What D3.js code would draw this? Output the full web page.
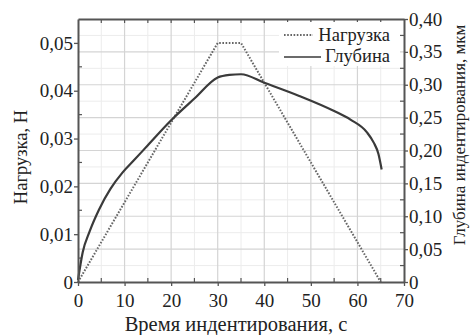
<!DOCTYPE html>
<html>
<head>
<meta charset="utf-8">
<script src="https://cdn.jsdelivr.net/npm/d3@7"></script>
<style>
  body { margin: 0; background: #fff; }
  svg text { font-family: "Liberation Serif", "Times New Roman", Times, "DejaVu Serif", serif; fill: #222; }
</style>
</head>
<body>
<div id="viz"></div>
<script>
// load curve (left axis, N)
const loadTime = [0, 30, 35, 65];
const loadValue = [0, 0.05, 0.05, 0];

// depth curve (right axis, um)
const depthTime = [0, 1, 2.5, 4.5, 7, 9.5, 12, 15, 20, 25, 30, 32.5, 35, 40, 47.5, 55, 58.5, 62, 63.5, 64.5, 65.2];
const depthValue = [0.003, 0.045, 0.077, 0.11, 0.142, 0.166, 0.185, 0.208, 0.246, 0.279, 0.311, 0.315, 0.316, 0.303, 0.283, 0.26, 0.247, 0.228, 0.212, 0.195, 0.171];

const xTicks = [0, 10, 20, 30, 40, 50, 60, 70];
const leftTicks = [0, 0.01, 0.02, 0.03, 0.04, 0.05];
const rightTicks = [0, 0.05, 0.10, 0.15, 0.20, 0.25, 0.30, 0.35, 0.40];

const serif = '"Liberation Serif", "Times New Roman", Times, "DejaVu Serif", serif';
const fmt = d => d === 0 ? '0' : d.toFixed(2).replace('.', ',');

function buildChart(containerId) {
    const width = 471;
    const height = 335;
    const margin = { top: 19, right: 67, bottom: 53, left: 78 };
    const innerWidth = width - margin.left - margin.right;
    const innerHeight = height - margin.top - margin.bottom;

    const svg = d3.select(containerId).append('svg')
        .attr('width', width)
        .attr('height', height);

    const g = svg.append('g')
        .attr('transform', 'translate(' + margin.left + ',' + margin.top + ')');

    const x = d3.scaleLinear().domain([0, 70]).range([0, innerWidth]);
    const yL = d3.scaleLinear().domain([0, 0.055]).range([innerHeight, 0]);
    const yR = d3.scaleLinear().domain([0, 0.40]).range([innerHeight, 0]);

    // grid
    const xMinor = d3.range(5, 70, 10);
    const rMinor = d3.range(0.025, 0.40, 0.05);
    g.selectAll('.vminor').data(xMinor).enter().append('line')
        .attr('x1', d => x(d)).attr('x2', d => x(d))
        .attr('y1', 0).attr('y2', innerHeight)
        .attr('stroke', '#ececec').attr('stroke-width', 1);
    g.selectAll('.hminor').data(rMinor).enter().append('line')
        .attr('x1', 0).attr('x2', innerWidth)
        .attr('y1', d => yR(d)).attr('y2', d => yR(d))
        .attr('stroke', '#ececec').attr('stroke-width', 1);
    g.selectAll('.vmajor').data(xTicks.slice(1, -1)).enter().append('line')
        .attr('x1', d => x(d)).attr('x2', d => x(d))
        .attr('y1', 0).attr('y2', innerHeight)
        .attr('stroke', '#d4d4d4').attr('stroke-width', 1.2);
    g.selectAll('.hmajor').data(rightTicks.slice(1, -1)).enter().append('line')
        .attr('x1', 0).attr('x2', innerWidth)
        .attr('y1', d => yR(d)).attr('y2', d => yR(d))
        .attr('stroke', '#d4d4d4').attr('stroke-width', 1.2);

    // minor inward ticks
    const tickCol = '#555';
    g.selectAll('.tmx').data(d3.range(5, 70, 5)).enter().append('line')
        .attr('x1', d => x(d)).attr('x2', d => x(d))
        .attr('y1', 0).attr('y2', 4)
        .attr('stroke', tickCol).attr('stroke-width', 1.2);
    g.selectAll('.bmx').data(xMinor).enter().append('line')
        .attr('x1', d => x(d)).attr('x2', d => x(d))
        .attr('y1', innerHeight).attr('y2', innerHeight - 4)
        .attr('stroke', tickCol).attr('stroke-width', 1.2);
    g.selectAll('.lmy').data(d3.range(0.005, 0.055, 0.01)).enter().append('line')
        .attr('x1', 0).attr('x2', 4)
        .attr('y1', d => yL(d)).attr('y2', d => yL(d))
        .attr('stroke', tickCol).attr('stroke-width', 1.2);
    g.selectAll('.rmy').data(rMinor).enter().append('line')
        .attr('x1', innerWidth).attr('x2', innerWidth - 4)
        .attr('y1', d => yR(d)).attr('y2', d => yR(d))
        .attr('stroke', tickCol).attr('stroke-width', 1.2);

    // curves
    const loadData = loadTime.map((t, i) => ({ t: t, v: loadValue[i] }));
    const depthData = depthTime.map((t, i) => ({ t: t, v: depthValue[i] }));

    g.append('path')
        .datum(loadData)
        .attr('fill', 'none')
        .attr('stroke', '#666')
        .attr('stroke-width', 2)
        .attr('stroke-dasharray', '1.6,1.6')
        .attr('d', d3.line().x(d => x(d.t)).y(d => yL(d.v)));

    g.append('path')
        .datum(depthData)
        .attr('fill', 'none')
        .attr('stroke', '#3a3a3a')
        .attr('stroke-width', 2.2)
        .attr('stroke-linejoin', 'round')
        .attr('d', d3.line().x(d => x(d.t)).y(d => yR(d.v)).curve(d3.curveMonotoneX));

    // axes
    const styleAxis = sel => {
        sel.attr('font-family', serif).attr('font-size', 19);
        sel.select('.domain').attr('stroke', '#555').attr('stroke-width', 2);
        sel.selectAll('.tick line').attr('stroke', '#555').attr('stroke-width', 1.3);
        sel.selectAll('.tick text').attr('fill', '#222');
    };

    g.append('g')
        .attr('transform', 'translate(0,' + innerHeight + ')')
        .call(d3.axisBottom(x).tickValues(xTicks).tickSize(4).tickSizeOuter(0).tickPadding(8))
        .call(styleAxis);

    g.append('g')
        .call(d3.axisTop(x).tickValues([]).tickSizeOuter(0))
        .call(styleAxis);

    g.append('g')
        .call(d3.axisLeft(yL).tickValues(leftTicks).tickFormat(fmt).tickSize(4).tickSizeOuter(0).tickPadding(1))
        .call(styleAxis);

    g.append('g')
        .attr('transform', 'translate(' + innerWidth + ',0)')
        .call(d3.axisRight(yR).tickValues(rightTicks).tickFormat(fmt).tickSize(4).tickSizeOuter(0).tickPadding(1))
        .call(styleAxis);

    // axis titles
    svg.append('text')
        .attr('x', 236)
        .attr('y', 331)
        .attr('text-anchor', 'middle')
        .attr('font-family', serif)
        .attr('font-size', 20.5)
        .text('Время индентирования, с');

    svg.append('text')
        .attr('transform', 'translate(27,157) rotate(-90)')
        .attr('text-anchor', 'middle')
        .attr('font-family', serif)
        .attr('font-size', 18.5)
        .text('Нагрузка, Н');

    svg.append('text')
        .attr('transform', 'translate(465,135) rotate(-90)')
        .attr('text-anchor', 'middle')
        .attr('font-family', serif)
        .attr('font-size', 17)
        .text('Глубина индентирования, мкм');

    // legend
    const lg = g.append('g').attr('transform', 'translate(' + (innerWidth - 125) + ',3)');
    lg.append('rect').attr('x', 0).attr('y', 0).attr('width', 121).attr('height', 44).attr('fill', '#fff');
    lg.append('line').attr('x1', 5).attr('x2', 34).attr('y1', 13).attr('y2', 13)
        .attr('stroke', '#666').attr('stroke-width', 2).attr('stroke-dasharray', '1.6,1.6');
    lg.append('text').attr('x', 111).attr('y', 19).attr('text-anchor', 'end')
        .attr('font-family', serif).attr('font-size', 18.5).text('Нагрузка');
    lg.append('line').attr('x1', 5).attr('x2', 42).attr('y1', 35).attr('y2', 35)
        .attr('stroke', '#3a3a3a').attr('stroke-width', 1.5);
    lg.append('text').attr('x', 111).attr('y', 40).attr('text-anchor', 'end')
        .attr('font-family', serif).attr('font-size', 18.5).text('Глубина');
}

buildChart('#viz');
</script>
</body>
</html>
